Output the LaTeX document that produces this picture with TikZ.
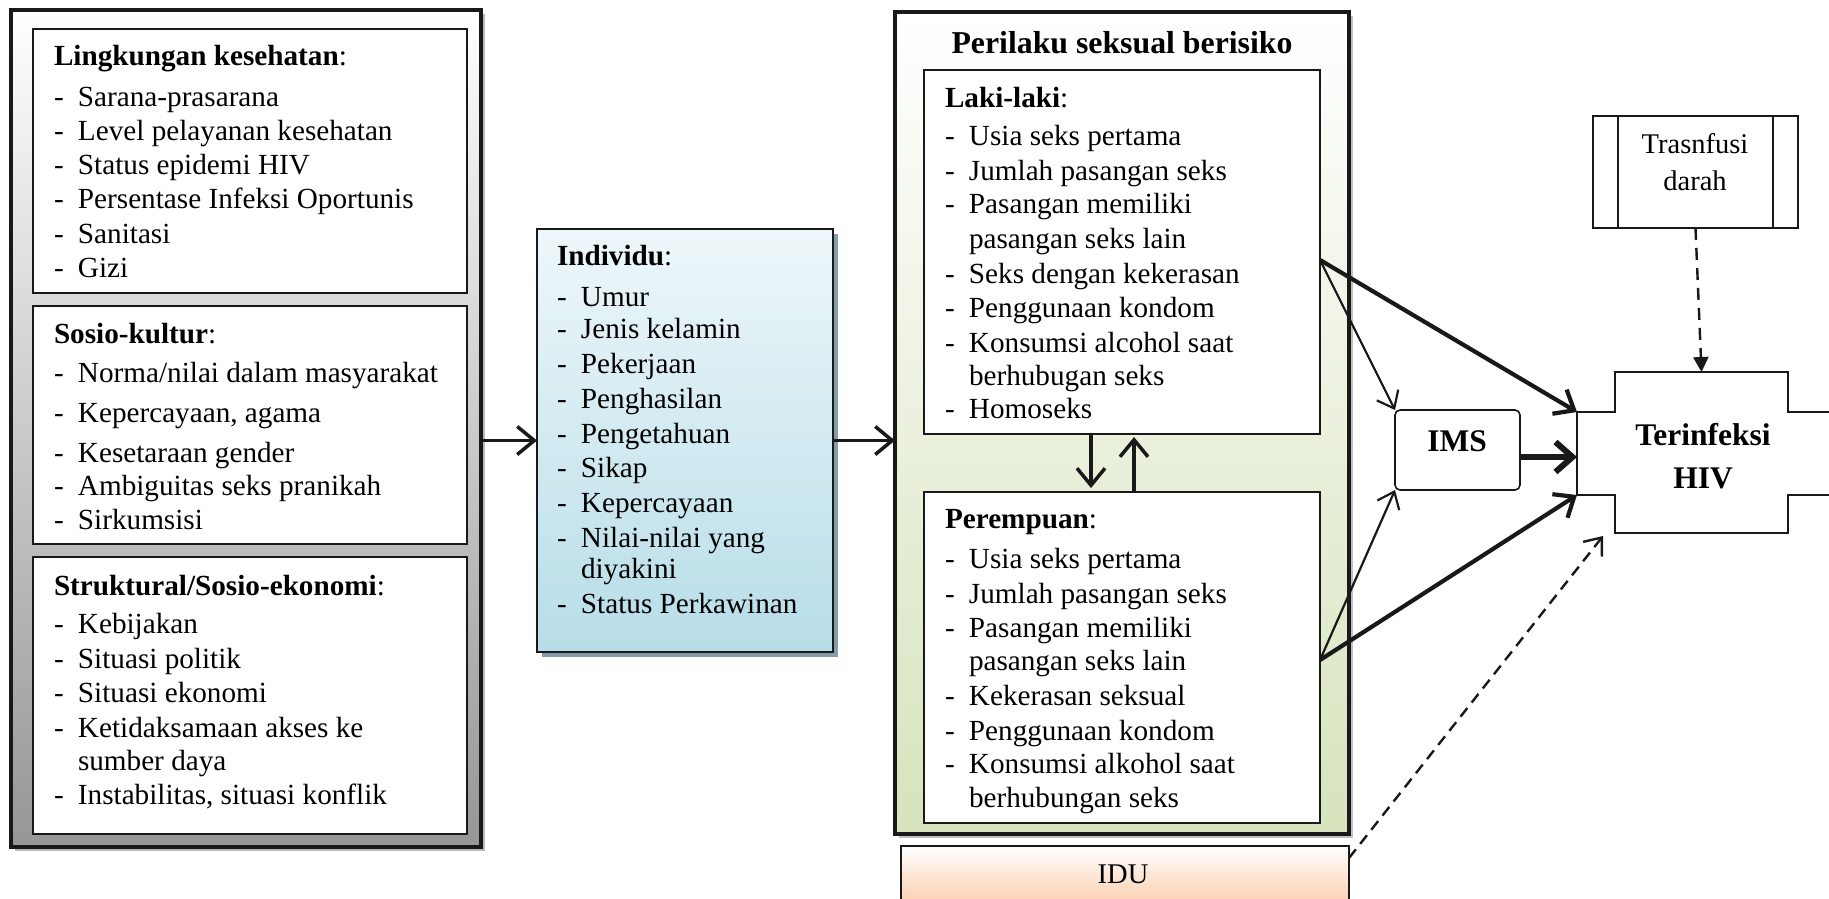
\documentclass[tikz,border=0pt]{standalone}
\usepackage{fontspec}
\setmainfont{Liberation Serif}
\usetikzlibrary{arrows.meta,calc,shadows}
\definecolor{edge}{RGB}{25,25,25}
\definecolor{framebot}{RGB}{150,150,150}
\definecolor{indtop}{RGB}{238,247,250}
\definecolor{indbot}{RGB}{183,221,232}
\definecolor{indshadow}{RGB}{130,158,168}
\definecolor{perbot}{RGB}{214,227,188}
\definecolor{idubot}{RGB}{249,197,158}
\newcommand{\dsh}{\makebox[24pt][l]{-}}
\tikzset{
  txt/.style={anchor=base west,inner sep=0pt,outer sep=0pt,font=\fontsize{29.2}{34}\selectfont},
  ctr/.style={anchor=base,inner sep=0pt,outer sep=0pt,font=\fontsize{28.5}{34}\selectfont},
  bctr/.style={anchor=base,inner sep=0pt,outer sep=0pt,font=\fontsize{31.5}{36}\selectfont\bfseries},
  box/.style={rectangle,draw=edge,inner sep=0pt,outer sep=0pt},
  arr/.style={draw=edge,line width=3.5pt,-{Straight Barb[length=17pt,width=28pt]}},
  thinarr/.style={draw=edge,line width=2.2pt,-{Straight Barb[length=15pt,width=24pt]}},
  thickarr/.style={draw=edge,line width=4.2pt,-{Straight Barb[length=17pt,width=28pt]}},
  heavyarr/.style={draw=edge,line width=6pt,-{Straight Barb[length=17pt,width=30pt]}},
  dasharr/.style={draw=edge,line width=2.4pt,dash pattern=on 11pt off 7pt,-{Straight Barb[length=15pt,width=24pt]}},
  trarr/.style={draw=edge,line width=2.4pt,dash pattern=on 12pt off 8pt,-{Triangle[length=15pt,width=15pt]}},
}
\begin{document}
\begin{tikzpicture}[x=1pt,y=-1pt]
\useasboundingbox (0,0) rectangle (1829,898);
\fill[white] (0,0) rectangle (1829,898);
\clip (0,0) rectangle (1829,898);

% ---------- left frame ----------
\node[box,line width=3.5pt,minimum width=470pt,minimum height=837pt,top color=white,bottom color=framebot,
  drop shadow={shadow xshift=4pt,shadow yshift=-4pt,fill=black!28,opacity=1}] (env) at (246,428.5) {};
\node[box,line width=2.2pt,fill=white,minimum width=434pt,minimum height=264pt] (lk) at (250,161) {};
\node[box,line width=2.2pt,fill=white,minimum width=434pt,minimum height=238pt] (sk) at (250,425) {};
\node[box,line width=2.2pt,fill=white,minimum width=434pt,minimum height=277pt] (st) at (250,695.5) {};

\node[txt] (lk0) at (54,65) {\textbf{Lingkungan kesehatan}:};
\node[txt] (lk1) at (54,106) {\dsh Sarana-prasarana};
\node[txt] (lk2) at (54,140) {\dsh Level pelayanan kesehatan};
\node[txt] (lk3) at (54,174) {\dsh Status epidemi HIV};
\node[txt] (lk4) at (54,208) {\dsh Persentase Infeksi Oportunis};
\node[txt] (lk5) at (54,243) {\dsh Sanitasi};
\node[txt] (lk6) at (54,277) {\dsh Gizi};

\node[txt] (sk0) at (54,343) {\textbf{Sosio-kultur}:};
\node[txt] (sk1) at (54,382) {\dsh Norma/nilai dalam masyarakat};
\node[txt] (sk2) at (54,422) {\dsh Kepercayaan, agama};
\node[txt] (sk3) at (54,462) {\dsh Kesetaraan gender};
\node[txt] (sk4) at (54,495) {\dsh Ambiguitas seks pranikah};
\node[txt] (sk5) at (54,529) {\dsh Sirkumsisi};

\node[txt] (st0) at (54,595) {\textbf{Struktural/Sosio-ekonomi}:};
\node[txt] (st1) at (54,633) {\dsh Kebijakan};
\node[txt] (st2) at (54,668) {\dsh Situasi politik};
\node[txt] (st3) at (54,702) {\dsh Situasi ekonomi};
\node[txt] (st4) at (54,737) {\dsh Ketidaksamaan akses ke};
\node[txt] (st5) at (78,770) {sumber daya};
\node[txt] (st6) at (54,804) {\dsh Instabilitas, situasi konflik};

% ---------- individu ----------
\node[box,line width=1.6pt,minimum width=296pt,minimum height=423pt,top color=indtop,bottom color=indbot,
  drop shadow={shadow xshift=5pt,shadow yshift=-5pt,fill=indshadow,opacity=1}] (ind) at (685,440.5) {};
\node[txt] (in0) at (557,265) {\textbf{Individu}:};
\node[txt] (in1) at (557,306) {\dsh Umur};
\node[txt] (in2) at (557,338) {\dsh Jenis kelamin};
\node[txt] (in3) at (557,373) {\dsh Pekerjaan};
\node[txt] (in4) at (557,408) {\dsh Penghasilan};
\node[txt] (in5) at (557,443) {\dsh Pengetahuan};
\node[txt] (in6) at (557,477) {\dsh Sikap};
\node[txt] (in7) at (557,512) {\dsh Kepercayaan};
\node[txt] (in8) at (557,547) {\dsh Nilai-nilai yang};
\node[txt] (in9) at (581,578) {diyakini};
\node[txt] (in10) at (557,613) {\dsh Status Perkawinan};

% ---------- perilaku ----------
\node[box,line width=3.5pt,minimum width=454pt,minimum height=822pt,top color=white,bottom color=perbot,
  drop shadow={shadow xshift=4pt,shadow yshift=-4pt,fill=black!25,opacity=1}] (per) at (1122,423) {};
\node[anchor=base,inner sep=0pt,font=\fontsize{31.8}{36}\selectfont\bfseries] (pert) at (1122,53) {Perilaku seksual berisiko};
\node[box,line width=2.2pt,fill=white,minimum width=396pt,minimum height=364pt] (laki) at (1122,252) {};
\node[box,line width=2.2pt,fill=white,minimum width=396pt,minimum height=331pt] (pr) at (1122,657.5) {};

\node[txt] (la0) at (945,107) {\textbf{Laki-laki}:};
\node[txt] (la1) at (945,145) {\dsh Usia seks pertama};
\node[txt] (la2) at (945,180) {\dsh Jumlah pasangan seks};
\node[txt] (la3) at (945,213) {\dsh Pasangan memiliki};
\node[txt] (la4) at (969,248) {pasangan seks lain};
\node[txt] (la5) at (945,283) {\dsh Seks dengan kekerasan};
\node[txt] (la6) at (945,317) {\dsh Penggunaan kondom};
\node[txt] (la7) at (945,352) {\dsh Konsumsi alcohol saat};
\node[txt] (la8) at (969,385) {berhubugan seks};
\node[txt] (la9) at (945,418) {\dsh Homoseks};

\node[txt] (pr0) at (945,528) {\textbf{Perempuan}:};
\node[txt] (pr1) at (945,568) {\dsh Usia seks pertama};
\node[txt] (pr2) at (945,603) {\dsh Jumlah pasangan seks};
\node[txt] (pr3) at (945,637) {\dsh Pasangan memiliki};
\node[txt] (pr4) at (969,670) {pasangan seks lain};
\node[txt] (pr5) at (945,705) {\dsh Kekerasan seksual};
\node[txt] (pr6) at (945,740) {\dsh Penggunaan kondom};
\node[txt] (pr7) at (945,773) {\dsh Konsumsi alkohol saat};
\node[txt] (pr8) at (969,807) {berhubungan seks};

% ---------- IDU ----------
\node[box,line width=2.5pt,minimum width=448pt,minimum height=70pt,top color=white,bottom color=idubot] (idu) at (1125,881) {};
\node[ctr] (idut) at (1123,883) {IDU};

% ---------- Trasnfusi ----------
\node[box,line width=2.2pt,fill=white,minimum width=205pt,minimum height=112pt] (tr) at (1695.5,172) {};
\draw[line width=2.2pt,draw=edge] ([xshift=25pt]tr.north west) -- ([xshift=25pt]tr.south west);
\draw[line width=2.2pt,draw=edge] ([xshift=-25pt]tr.north east) -- ([xshift=-25pt]tr.south east);
\node[ctr] (tr1) at (1695,153) {Trasnfusi};
\node[ctr] (tr2) at (1695,190) {darah};

% ---------- IMS ----------
\node[box,line width=1.6pt,fill=white,rounded corners=5pt,minimum width=125pt,minimum height=80pt] (ims) at (1457.5,450) {};
\node[bctr] (imst) at (1457,451) {IMS};

% ---------- Terinfeksi HIV ----------
\node[inner sep=0pt,outer sep=0pt,minimum width=173pt,minimum height=161pt] (hiv) at (1701.5,452.5) {};
\coordinate (armtl) at (1577,412);
\coordinate (armml) at (1577,457);
\coordinate (armbl) at (1577,495);
\coordinate (armtr) at (1850,412);
\coordinate (armbr) at (1850,495);
\draw[line width=2.6pt,draw=edge,fill=white] (hiv.north west) -- (hiv.north east) -- (hiv.north east |- armtl) -- (armtr) -- (armbr) -- (hiv.south east |- armbl) -- (hiv.south east) -- (hiv.south west) -- (hiv.south west |- armbl) -- (armbl) -- (armtl) -- (hiv.north west |- armtl) -- cycle;
\node[bctr] (hivt1) at (1703,445) {Terinfeksi};
\node[bctr] (hivt2) at (1703,488) {HIV};

% ---------- connectors ----------
\draw[arr] (env.east |- ind.west) -- (ind.west);
\draw[arr] (ind.east) -- (ind.east -| per.west);
\draw[arr] ([xshift=-31pt]laki.south) -- ([xshift=-31pt,yshift=4pt]pr.north);
\draw[arr] ([xshift=12pt]pr.north) -- ([xshift=12pt,yshift=-3pt]laki.south);
\coordinate (lo) at ([yshift=-8pt]laki.east);
\coordinate (po) at ([yshift=-2.5pt]pr.east);
\draw[thinarr] (lo) -- (ims.north west);
\draw[thickarr] (lo) -- (armtl);
\draw[thinarr] (po) -- (ims.south west);
\draw[thickarr] (po) -- (armbl);
\draw[heavyarr] (ims.east |- armml) -- (armml);
\draw[trarr] (tr.south) -- (hiv.north);
\coordinate (iduo) at ([yshift=-12pt]idu.north east);
\coordinate (hivin) at ([xshift=-12pt,yshift=-3pt]hiv.south west);
\draw[dasharr] (iduo) -- (hivin);
\end{tikzpicture}
\end{document}
